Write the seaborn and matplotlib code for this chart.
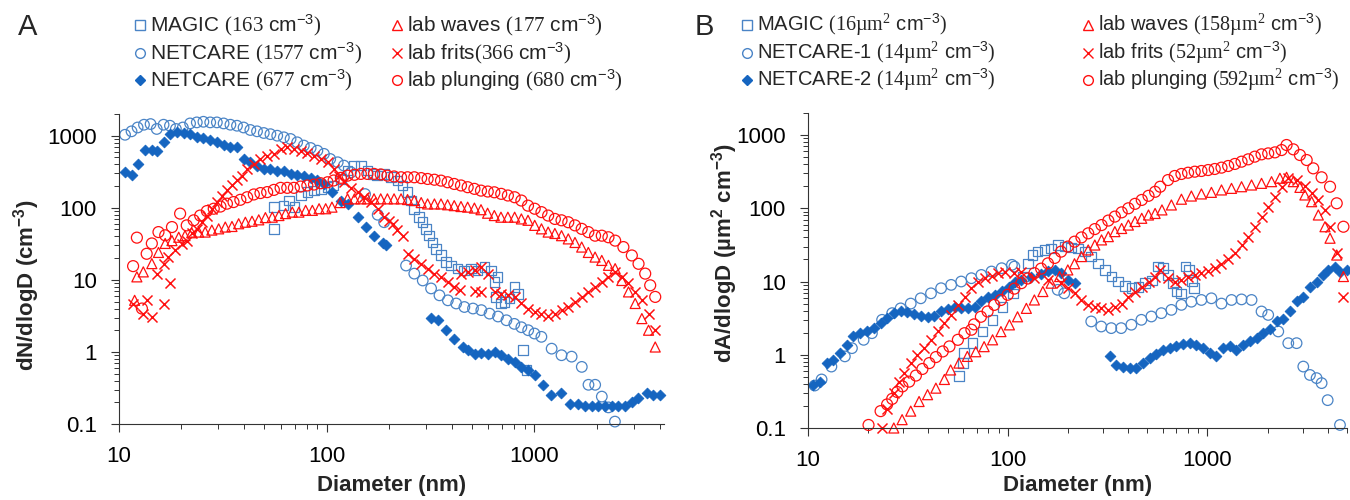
# import the libraries
import matplotlib
matplotlib.use("Agg")
import matplotlib.pyplot as plt
from matplotlib.lines import Line2D
from matplotlib.ticker import LogLocator, NullFormatter
import seaborn as sns

# panel A: number size distributions, dN/dlogD (cm-3) against diameter (nm)
a_magic_d = [55.7, 55.7, 62, 66, 70, 75, 81, 87, 94, 101, 108, 117, 126, 135, 146, 157, 166, 175, 189, 204,
             219, 232, 245, 254, 264, 279, 289, 300, 311, 323, 335, 354, 375, 396, 427, 459, 494, 533, 574, 618,
             643, 654, 665, 692, 718, 759, 803, 833, 881, 914]
a_magic_v = [51, 102, 107, 126, 102, 148, 164, 173, 183, 193, 203, 251, 328, 385, 385, 328, 295, 279, 295, 265,
             238, 203, 164, 126, 97, 74, 63, 51, 41, 33, 27, 22, 17.7, 15.9, 14.3, 13.5, 14.3, 13.5, 15.1, 13.5,
             9.3, 5.8, 10.9, 4.7, 4.9, 5.5, 7.9, 6.4, 1.06, 0.56]

a_net1_d = [10.7, 11.5, 12.3, 13.2, 14.2, 15.2, 16.4, 17.6, 18.8, 20.3, 22.0, 23.7, 25.5, 27.5, 29.6, 31.9,
            34.4, 37.0, 39.8, 42.9, 46.2, 49.8, 53.6, 57.8, 62.2, 67.0, 72.1, 77.6, 83.7, 90.2, 97, 104, 113,
            121, 131, 153, 176, 189, 241, 264, 290, 318, 349, 383, 420, 460, 506, 555, 608, 668, 733, 800, 865,
            933, 1000, 1080, 1210, 1350, 1510, 1690, 1820, 1960, 2110, 2270, 2440]
a_net1_v = [1030, 1150, 1300, 1420, 1450, 1240, 1420, 1375, 1240, 1300, 1480, 1530, 1560, 1530, 1530, 1480,
            1420, 1375, 1300, 1200, 1150, 1090, 1050, 1000, 950, 900, 810, 730, 675, 620, 560, 475, 428,
            385, 310, 155, 80, 63, 15.8, 12.2, 9.8, 7.6, 6.1, 5.2, 4.7, 4.2, 4.0, 3.8, 3.4, 3.1, 2.75, 2.45, 2.2,
            2.0, 1.8, 1.62, 1.11, 0.9, 0.86, 0.62, 0.35, 0.35, 0.24, 0.17, 0.108]

a_net2_d = [10.7, 11.5, 12.4, 13.4, 14.4, 15.2, 16.4, 17.6, 19.0, 20.5, 22.0, 23.7, 25.5, 27.5, 29.6, 31.9,
            34.4, 37.0, 39.8, 42.9, 46.2, 49.8, 53.6, 57.8, 62.2, 67.0, 72.1, 77.6, 83.7, 90.2, 97, 106, 117,
            126, 141, 154, 169, 186, 193, 318, 342, 375, 412, 452, 478, 515, 554, 597, 643, 692, 745, 803, 865,
            931, 1003, 1100, 1207, 1349, 1479, 1624, 1749, 1884, 2028, 2184, 2353, 2535, 2730, 2940, 3167,
            3473, 3740, 4000]
a_net2_v = [311, 289, 406, 634, 634, 620, 810, 1050, 1110, 1080, 1050, 970, 930, 870, 810, 750,
            705, 690, 475, 428, 385, 346, 346, 328, 321, 295, 289, 280, 260, 239, 215, 164, 126,
            113, 74, 54, 41, 32, 30, 3.0, 2.75, 2.0, 1.53, 1.17, 1.06, 0.95, 0.97, 0.95, 1.0, 0.9, 0.81, 0.73, 0.62,
            0.56, 0.48, 0.35, 0.25, 0.27, 0.19, 0.19, 0.18, 0.18, 0.18, 0.175, 0.18, 0.18, 0.175, 0.20, 0.23,
            0.27, 0.25, 0.25]

a_waves_d = [11.9, 12.2, 13.1, 14.4, 15.5, 16.7, 18.0, 19.4, 20.8, 22.4, 24.2, 26.0, 28.0, 30.2, 32.5, 35.0,
             37.7, 40.6, 43.7, 47.1, 50.7, 54.7, 58.9, 63.4, 68.3, 73.5, 79.2, 85.3, 91.9, 98.9, 106, 116, 126,
             136, 146, 157, 169, 182, 196, 211, 228, 245, 264, 285, 306, 330, 355, 382, 411, 443, 477, 514, 553,
             595, 641, 690, 745, 803, 865, 931, 1003, 1081, 1164, 1254, 1350, 1455, 1567, 1688, 1817, 1958,
             2109, 2271, 2446, 2633, 2836, 3054, 3289, 3542, 3814]
a_waves_v = [5.2, 11, 12.9, 16.8, 24, 32, 35, 39, 41, 45, 46, 46, 49, 51, 54, 55,
             60, 63, 65, 68, 73, 74, 78, 83, 87, 87, 92, 92, 97, 97, 102, 118, 133,
             133, 133, 133, 133, 133, 133, 133, 133, 130, 126, 118, 113, 113, 113, 110, 107, 104, 102, 99, 94,
             84, 78, 74, 74, 74, 70, 67, 57, 51, 46, 44, 41, 37, 33, 28.5, 24, 20.7,
             18.6, 15.9, 14.3, 9.8, 6.8, 4.7, 2.9, 2.0, 1.17]

a_frits_d = [11.7, 13.1, 13.6, 14.4, 15.2, 16.4, 16.4, 17.3, 17.6, 18.7, 20.1, 21.2, 22.4, 23.7, 25.1, 26.5,
             28.1, 29.7, 31.3, 33.1, 35.0, 37.0, 39.1, 41.4, 44.6, 48.0, 51.7, 55.7, 60.0, 64.6, 69.5, 74.9,
             80.7, 86.9, 93.5, 101, 108, 115, 121, 131, 141, 152, 163, 176, 189, 200, 208, 219, 232, 245, 264,
             284, 306, 330, 355, 383, 412, 443, 478, 515, 554, 597, 643, 692, 745, 803, 865, 931, 1003, 1081,
             1164, 1254, 1350, 1455, 1567, 1688, 1817, 1958, 2109, 2271, 2446, 2633, 2836, 3054, 3289, 3542,
             3814, 440, 520, 555]
a_frits_v = [4.6, 3.4, 5.2, 3.1, 12.2, 4.6, 16.8, 20.8, 8.9, 25.7, 31.8, 35, 44, 51, 63, 78,
             97, 120, 148, 174, 204, 239, 280, 346, 406, 476, 529, 558, 650, 700, 660, 620,
             570, 530, 480, 430, 350, 280, 226, 190, 164, 140, 119, 95, 74, 65, 60, 48.5, 41, 23, 19.6,
             16.7, 14.3, 12.2, 10.9, 9.3, 7.9, 12.2, 12.9, 13.6, 15.1, 12.2, 6.8, 6.4, 6.1, 5.8, 4.7, 4.0, 3.6, 3.4,
             3.2, 3.4, 3.8, 4.2, 4.9, 5.8, 6.8, 7.9, 9.3, 10.9, 12.9, 10.9, 8.9, 6.8, 5.2, 3.4,
             2.0, 7.2, 7.0, 6.8]

a_plunge_d = [11.7, 12.2, 12.9, 13.6, 14.4, 15.5, 16.7, 18.0, 19.7, 21.2, 22.9, 24.6, 26.5, 28.6, 30.8, 33.1,
              35.6, 38.4, 41.4, 44.6, 48.0, 51.7, 55.7, 60.0, 64.6, 69.5, 74.9, 80.7, 86.9, 93.5, 101, 108,
              117, 126, 136, 146, 157, 169, 182, 196, 211, 228, 245, 264, 285, 306, 330, 355, 382, 411, 443,
              477, 514, 553, 596, 641, 692, 745, 803, 865, 931, 1003, 1081, 1164, 1254, 1350, 1455, 1567, 1688,
              1817, 1958, 2109, 2271, 2446, 2680, 2943, 3170, 3413, 3607, 3814]
a_plunge_v = [15.5, 38.5, 4.0, 23, 32, 46, 41.5, 54, 83, 57, 67, 78, 90, 97, 104, 114,
              120, 129, 140, 153, 160, 165, 177, 189, 189, 189, 197, 204, 210, 219, 226, 239,
              260, 279, 287, 295, 295, 295, 290, 279, 272, 265, 265, 265, 258, 251, 245, 238, 226, 214, 204,
              193, 183, 173, 168, 164, 156, 148, 140, 126, 107, 97, 87, 78, 70, 67, 63, 57, 51,
              46, 41, 41, 39, 35, 28.5, 21.8, 16.7, 12.2, 8.4, 5.8]

# panel B: surface area size distributions, dA/dlogD (um2 cm-3) against diameter (nm)
b_magic_d = [57, 59.7, 60.4, 66.5, 74.7, 83.9, 94.2, 106, 119, 126, 133, 141, 153, 165, 178, 193, 208, 225,
             243, 262, 284, 306, 331, 357, 386, 417, 451, 487, 526, 566, 600, 635, 673, 699, 735, 776, 806,
             838, 857]
b_magic_v = [0.51, 0.77, 1.05, 1.44, 2.07, 3.0, 4.5, 6.9, 11.7, 17.7, 23, 25.6, 27, 28.4, 31.6, 30, 29.3, 28.4,
             25.6, 21.9, 17.7, 14.4, 11.7, 10, 8.7, 8.1, 8.5, 9.5, 10.3, 16, 15.2, 12.3, 9.5, 7.3, 6.9, 16, 14.4,
             10, 8.1]

b_net1_d = [10.8, 11.7, 13.1, 15.3, 16.6, 19.0, 20.9, 23.5, 26.4, 29.1, 32.7, 36.7, 41.3, 46.4, 52.1, 58.5,
            65.8, 73.8, 83.0, 93.3, 105, 108, 178, 192, 262, 294, 330, 370, 416, 467, 524, 588, 660, 741, 831,
            933, 1047, 1176, 1320, 1482, 1663, 1866, 2015, 2263, 2540, 2795, 3020, 3260, 3520, 3730, 4000, 4610]
b_net1_v = [0.38, 0.46, 0.69, 0.95, 1.23, 1.6, 1.97, 3.0, 3.7, 4.3, 5.0, 5.9, 6.9, 8.1, 9.0, 10,
            11.1, 12.3, 13.7, 15.2, 16.9, 16, 7.7, 6.9, 2.85, 2.43, 2.31, 2.31, 2.57, 3.0, 3.33, 3.7, 4.1, 4.8, 5.3,
            5.6, 5.9, 5.0, 5.6, 5.7, 5.6, 3.9, 3.5, 2.08, 1.44, 1.44, 0.69, 0.53, 0.48, 0.41, 0.24, 0.11]

b_net2_d = [10.6, 11.5, 12.4, 13.4, 14.5, 15.6, 16.9, 18.3, 19.7, 21.3, 23.1, 24.9, 26.9, 29.1, 31.4, 34.0,
            36.7, 39.7, 42.9, 46.4, 50.1, 54.2, 58.5, 63.2, 68.4, 73.8, 79.8, 86.3, 93.3, 101, 109, 117, 131,
            147, 159, 172, 185, 200, 216, 324, 349, 377, 408, 440, 476, 514, 555, 600, 647, 699, 755, 815, 881,
            951, 1027, 1110, 1199, 1295, 1397, 1510, 1630, 1762, 1902, 2055, 2218, 2398, 2589, 2795, 3020,
            3260, 3520, 3800, 4030, 4350, 4610, 4980]
b_net2_v = [0.39, 0.42, 0.77, 0.86, 1.05, 1.37, 1.78, 1.97, 2.08, 2.31, 2.7, 3.16, 3.7, 3.9, 3.8, 3.6,
            3.4, 3.3, 3.4, 3.9, 4.2, 4.5, 4.3, 4.3, 4.5, 5.5, 6.2, 6.6, 7.4, 8.5, 9.8, 10.5, 11.7,
            12.7, 14.1, 14.4, 12.9, 10.5, 9.5, 0.95, 0.73, 0.69, 0.66, 0.66, 0.77, 0.9, 1.03, 1.15, 1.23, 1.33,
            1.41, 1.44, 1.37, 1.23, 1.05, 0.95, 1.23, 1.3, 1.17, 1.37, 1.52, 1.69, 1.97, 2.24, 2.85, 3.06,
            4.0, 5.4, 6.2, 8.4, 10, 12.3, 14.4, 16, 13.7, 14.4]

b_waves_d = [26.9, 29.6, 32.7, 36.0, 39.7, 43.7, 48.2, 51.8, 57.0, 62.8, 69.2, 76.2, 84.0, 92.5, 102, 112,
             124, 136, 150, 165, 182, 200, 216, 234, 253, 273, 295, 319, 344, 372, 402, 434, 469, 507, 547,
             592, 660, 741, 831, 933, 1047, 1176, 1320, 1482, 1663, 1866, 2094, 2306, 2490, 2691, 2905, 3076,
             3324, 3591, 3878, 4110, 4440, 4797]
b_waves_v = [0.1, 0.13, 0.17, 0.23, 0.285, 0.35, 0.46, 0.62, 0.77, 0.95, 1.1, 1.29, 1.6, 2.07, 2.56, 3.3,
             4.3, 5.6, 7.3, 9.5, 11.7, 14.4, 17.5, 21.9, 27, 31.5, 37, 41, 48, 53, 59, 66, 73, 81, 85,
             95, 111, 133, 147, 157, 165, 178, 187, 197, 208, 219, 231, 257, 265, 231, 193, 152,
             123, 81, 56, 39, 23, 11.7]

b_frits_d = [23.5, 24.9, 26.9, 28.5, 30.3, 32.7, 35.3, 38.2, 41.3, 44.6, 48.2, 52.1, 56.3, 60.8, 65.8, 71.1,
             76.8, 83.0, 89.7, 97.0, 108, 117, 136, 159, 185, 200, 216, 234, 253, 273, 294, 319, 344, 372, 402,
             434, 469, 507, 547, 580, 635, 686, 741, 800, 864, 933, 1008, 1088, 1176, 1270, 1372, 1482, 1600,
             1727, 1866, 2015, 2177, 2350, 2540, 2795, 3076, 3324, 3591, 3878, 4110, 4440, 4797]
b_frits_v = [0.1, 0.18, 0.3, 0.43, 0.56, 0.77, 1.0, 1.23, 1.6, 2.08, 2.7, 3.5, 4.8, 6.2, 8.1, 10,
             11.1, 11.9, 13, 13.7, 13, 13.7, 11.1, 10.5, 9.5, 8.1, 6.9, 5.6, 4.8, 4.5, 4.3, 4.1, 4.5, 5.0, 6.2,
             7.3, 8.5, 10, 11.7, 14.4, 11.1, 10, 10.5, 11.7, 12.3, 13, 14.1, 15.2, 17.2, 20.2, 24.3, 31.6, 41,
             56, 77, 105, 144, 193, 257, 243, 202, 160, 130, 95, 56, 24.3, 6.2]

b_plunge_d = [20.1, 23.1, 24.9, 26.4, 28.0, 29.7, 32.1, 34.7, 37.4, 40.5, 43.7, 47.3, 51.1, 56.3, 60.8, 65.8,
              67.9, 73.4, 79.3, 85.7, 92.5, 100, 108, 117, 126, 136, 147, 159, 172, 185, 200, 216, 234, 253,
              273, 295, 319, 344, 372, 402, 434, 469, 507, 547, 580, 635, 686, 741, 800,
              864, 933, 1008, 1088, 1176, 1270, 1372, 1482, 1600, 1727, 1866, 2015, 2177, 2350, 2490, 2691,
              2905, 3140, 3388, 3730, 4110, 4440, 4797]
b_plunge_v = [0.11, 0.17, 0.21, 0.25, 0.31, 0.37, 0.43, 0.52, 0.64, 0.77, 0.93, 1.11, 1.3, 1.6, 1.97, 2.2,
              2.6, 3.3, 3.9, 4.8, 5.6, 6.6, 8.0, 9.5, 11, 13, 15, 17.7, 21, 25.6, 30, 35, 40, 45.5,
              52, 59, 68, 77, 88, 100, 115, 130, 148, 168, 197, 243, 276, 294, 306,
              316, 323, 333, 344, 359, 378, 403, 433, 466, 507, 545, 562, 580, 624, 731, 638,
              534, 456, 351, 265, 197, 117, 56]

# legend labels
a_labels = [r"MAGIC $\mathrm{(163}$ cm$^{-3}\mathrm{)}$",
            r"NETCARE $\mathrm{(1577}$ cm$^{-3}\mathrm{)}$",
            r"NETCARE $\mathrm{(677}$ cm$^{-3}\mathrm{)}$",
            r"lab waves $\mathrm{(177}$ cm$^{-3}\mathrm{)}$",
            r"lab frits$\mathrm{(366}$ cm$^{-3}\mathrm{)}$",
            r"lab plunging $\mathrm{(680}$ cm$^{-3}\mathrm{)}$"]
b_labels = [r"MAGIC $\mathrm{(16µm^{2}}$ cm$^{-3}\mathrm{)}$",
            r"NETCARE-1 $\mathrm{(14µm^{2}}$ cm$^{-3}\mathrm{)}$",
            r"NETCARE-2 $\mathrm{(14µm^{2}}$ cm$^{-3}\mathrm{)}$",
            r"lab waves $\mathrm{(158µm^{2}}$ cm$^{-3}\mathrm{)}$",
            r"lab frits $\mathrm{(52µm^{2}}$ cm$^{-3}\mathrm{)}$",
            r"lab plunging $\mathrm{(592µm^{2}}$ cm$^{-3}\mathrm{)}$"]

# set the theme, then the fonts
sns.set_theme(style="ticks")
plt.rcParams["font.family"] = ["Liberation Sans", "DejaVu Sans"]
plt.rcParams["mathtext.fontset"] = "custom"
plt.rcParams["mathtext.rm"] = "Liberation Serif"
plt.rcParams["mathtext.sf"] = "Liberation Sans"
plt.rcParams["mathtext.default"] = "regular"

blue_open = "#4a84c6"
blue_fill = "#1565c0"
red = "#ff1010"

# marker style per series: marker, colour, filled, size
styles = [("s", blue_open, False, 48), ("o", blue_open, False, 58), ("D", blue_fill, True, 30),
          ("^", red, False, 52), ("x", red, False, 52), ("o", red, False, 62)]

fig = plt.figure(figsize=(13.5, 5), dpi=100)
ax_a = fig.add_axes([0.0881, 0.152, 0.4037, 0.620])
ax_b = fig.add_axes([0.5985, 0.144, 0.3993, 0.630])


def draw(ax, d, v, style):
    marker, color, filled, size = style
    if marker == "x":
        sns.scatterplot(x=d, y=v, ax=ax, marker="x", color=color, s=size, linewidth=1.1, clip_on=False)
    elif filled:
        sns.scatterplot(x=d, y=v, ax=ax, marker=marker, color=color, edgecolor=color, s=size,
                        linewidth=0.6, clip_on=False)
    else:
        sns.scatterplot(x=d, y=v, ax=ax, marker=marker, color=color, facecolor="none", edgecolor=color,
                        s=size, linewidth=0.9, clip_on=False)


a_series = [(a_magic_d, a_magic_v), (a_net1_d, a_net1_v), (a_net2_d, a_net2_v),
            (a_waves_d, a_waves_v), (a_frits_d, a_frits_v), (a_plunge_d, a_plunge_v)]
b_series = [(b_magic_d, b_magic_v), (b_net1_d, b_net1_v), (b_net2_d, b_net2_v),
            (b_waves_d, b_waves_v), (b_frits_d, b_frits_v), (b_plunge_d, b_plunge_v)]

for (d, v), st in zip(a_series, styles):
    draw(ax_a, d, v, st)
for (d, v), st in zip(b_series, styles):
    draw(ax_b, d, v, st)

# axes look
for ax, xmax in [(ax_a, 4200), (ax_b, 5000)]:
    ax.set_xscale("log")
    ax.set_yscale("log")
    ax.set_xlim(10, xmax)
    ax.set_ylim(0.1, 2000)
    ax.set_xticks([10, 100, 1000])
    ax.set_xticklabels(["10", "100", "1000"])
    ax.set_yticks([0.1, 1, 10, 100, 1000])
    ax.set_yticklabels(["0.1", "1", "10", "100", "1000"])
    ax.xaxis.set_minor_locator(LogLocator(base=10, subs=range(2, 10)))
    ax.yaxis.set_minor_locator(LogLocator(base=10, subs=range(2, 10)))
    ax.xaxis.set_minor_formatter(NullFormatter())
    ax.yaxis.set_minor_formatter(NullFormatter())
    ax.tick_params(which="major", direction="out", length=6, width=0.8, labelsize=16, pad=10,
                   color="#333333", labelcolor="black")
    ax.tick_params(which="minor", direction="out", length=3.5, width=0.7, color="#333333")
    for side in ["top", "right"]:
        ax.spines[side].set_visible(False)
    for side in ["left", "bottom"]:
        ax.spines[side].set_color("#333333")
        ax.spines[side].set_linewidth(0.8)
    ax.set_xlabel("Diameter (nm)", fontsize=16, fontweight="bold")
    ax.xaxis.label.set_va("center")

ax_a.set_ylabel(r"dN/dlogD (cm$^{-3}$)", fontsize=16, fontweight="bold")
ax_b.set_ylabel(r"dA/dlogD (µm$^{2}$ cm$^{-3}$)", fontsize=16, fontweight="bold")
for ax in [ax_a, ax_b]:
    ax.yaxis.label.set_va("center")
ax_a.yaxis.set_label_coords(-0.169, 0.448)
ax_b.yaxis.set_label_coords(-0.154, 0.556)
ax_a.xaxis.set_label_coords(0.5, -0.20)
ax_b.xaxis.set_label_coords(0.5, -0.184)

# panel letters
fig.text(28 / 1350, 1 - 27 / 500, "A", fontsize=21, ha="center", va="center")
fig.text(704 / 1350, 1 - 27 / 500, "B", fontsize=21, ha="center", va="center")

# legends drawn as figure text, marker + label
rows = [25, 53, 80]


def legend_block(labels, col_x, fsize):
    for i, (label, st) in enumerate(zip(labels, styles)):
        marker, color, filled, size = st
        mx = col_x[i // 3]
        fy = 1 - rows[i % 3] / 500
        ms = {"s": 7.0, "o": 7.0, "D": 5.6, "^": 7.0, "x": 7.0}[marker]
        fig.add_artist(Line2D([mx / 1350], [fy], transform=fig.transFigure, marker=marker, ms=ms,
                              mfc=color if filled else "none", mec=color, mew=1.0, ls="none"))
        fig.text((mx + 10) / 1350, fy, label, fontsize=fsize, ha="left", va="center")


legend_block(a_labels, [140, 397], 15)
legend_block(b_labels, [747, 1088], 14.5)

# save the figure
fig.savefig("out.png", dpi=100)
